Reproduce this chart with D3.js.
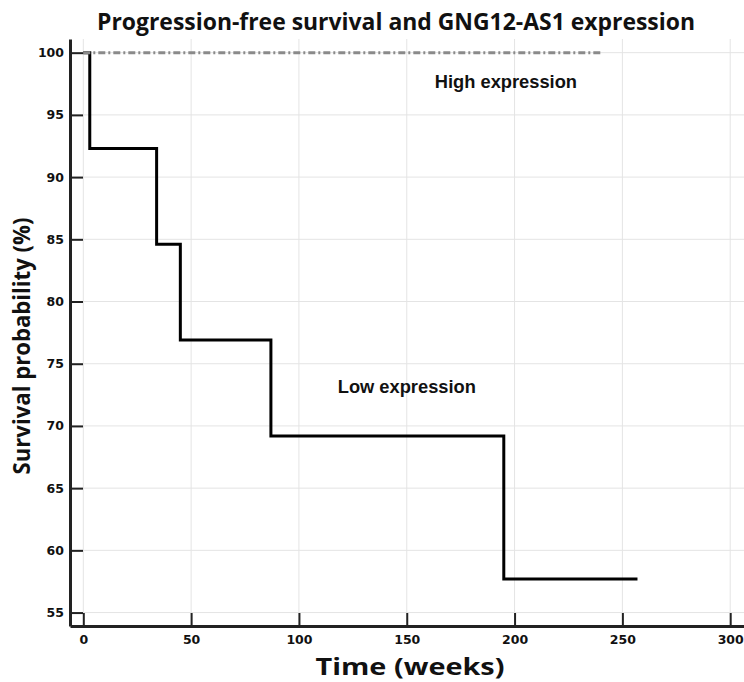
<!DOCTYPE html>
<html><head><meta charset="utf-8">
<script src="https://cdn.jsdelivr.net/npm/d3@7"></script>
<style>body{margin:0;background:#fff}</style>
</head><body><svg id="c" width="744" height="682"></svg>
<script>
// Data
const lowTimes = [0, 3, 34, 45, 87, 195, 257];
const lowSurv  = [100, 92.3, 84.6, 76.9, 69.2, 57.7, 57.7];
const highTimes = [0, 240];
const highSurv  = [100, 100];
const xTicks = [0, 50, 100, 150, 200, 250, 300];
const yTicks = [55, 60, 65, 70, 75, 80, 85, 90, 95, 100];
const annTexts = ["High expression", "Low expression"];
const annTimes = [163, 118];
const annSurv  = [97.14, 72.67];
const titleText = "Progression-free survival and GNG12-AS1 expression";
const xLabel = "Time (weeks)";
const yLabel = "Survival probability (%)";

const svg = d3.select("#c");
const x = d3.scaleLinear().domain([-6.17, 306.4]).range([70, 744]);
const y = d3.scaleLinear().domain([53.92, 101.1]).range([626, 39]);

// grid
const grid = svg.append("g").attr("stroke", "#e4e4e4").attr("stroke-width", 1);
grid.selectAll(".vx").data(xTicks).join("line")
  .attr("x1", d => x(d)).attr("x2", d => x(d)).attr("y1", y.range()[1]).attr("y2", y.range()[0]);
grid.selectAll(".hy").data(yTicks).join("line")
  .attr("y1", d => y(d)).attr("y2", d => y(d)).attr("x1", x.range()[0]).attr("x2", x.range()[1]);

// axes
const yAxis = svg.append("g").attr("transform", `translate(${x.range()[0]},0)`)
  .call(d3.axisLeft(y).tickValues(yTicks).tickSizeInner(-13).tickSizeOuter(0).tickPadding(6));
const xAxis = svg.append("g").attr("transform", `translate(0,${y.range()[0]})`)
  .call(d3.axisBottom(x).tickValues(xTicks).tickSizeInner(-13).tickSizeOuter(0).tickPadding(9));
[yAxis, xAxis].forEach(a => {
  a.select(".domain").attr("stroke", "#222").attr("stroke-width", 3);
  a.selectAll(".tick line").attr("stroke", "#222").attr("stroke-width", 2);
  a.selectAll(".tick text").attr("fill", "#111")
    .style("font-family", "'DejaVu Sans', sans-serif").style("font-weight", "bold").style("font-size", "12.5px");
});

// curves
const line = d3.line().x(d => x(d[0])).y(d => y(d[1])).curve(d3.curveStepAfter);
svg.append("path").datum(lowTimes.map((t, i) => [t, lowSurv[i]]))
  .attr("d", line).attr("fill", "none").attr("stroke", "#000").attr("stroke-width", 3);
svg.append("path").datum(highTimes.map((t, i) => [t, highSurv[i]]))
  .attr("d", line).attr("fill", "none").attr("stroke", "#8a8a8a").attr("stroke-width", 3)
  .attr("stroke-dasharray", "7,3,2,3");

// annotations
svg.selectAll(".ann").data(annTexts).join("text")
  .attr("x", (d, i) => x(annTimes[i])).attr("y", (d, i) => y(annSurv[i]))
  .attr("fill", "#111")
  .style("font-family", "'Liberation Sans', Arial, sans-serif").style("font-weight", "bold").style("font-size", "18.3px")
  .text(d => d);

// title and axis labels
svg.append("text").attr("x", 396).attr("y", 30).attr("text-anchor", "middle")
  .attr("textLength", 598).attr("lengthAdjust", "spacingAndGlyphs")
  .style("font-family", "'Open Sans', sans-serif").style("font-weight", "bold").style("font-size", "24px")
  .attr("fill", "#111").text(titleText);
svg.append("text").attr("x", 410).attr("y", 675).attr("text-anchor", "middle")
  .attr("textLength", 189).attr("lengthAdjust", "spacingAndGlyphs")
  .style("font-family", "'Open Sans', sans-serif").style("font-weight", "bold").style("font-size", "24px")
  .attr("fill", "#111").text(xLabel);
svg.append("text").attr("transform", "translate(30,346) rotate(-90)").attr("text-anchor", "middle")
  .attr("textLength", 257).attr("lengthAdjust", "spacingAndGlyphs")
  .style("font-family", "'Open Sans', sans-serif").style("font-weight", "bold").style("font-size", "23px")
  .attr("fill", "#111").text(yLabel);
</script></body></html>
